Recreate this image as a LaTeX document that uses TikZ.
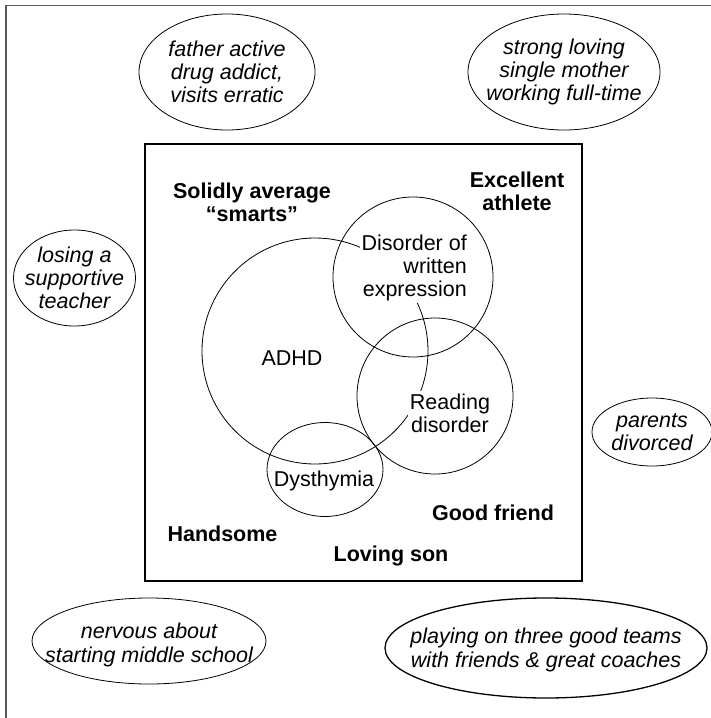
\documentclass[tikz,border=0pt]{standalone}
\usepackage{fontspec}
\setmainfont{Liberation Sans}
\usetikzlibrary{shapes.geometric}
\begin{document}
\begin{tikzpicture}[x=1pt,y=-1pt,
  txt/.style={font=\fontsize{21.5}{23.3}\selectfont, inner sep=0pt, align=center},
  ctx/.style={txt, font=\fontsize{21.5}{23.3}\selectfont\itshape},
  lbl/.style={txt, font=\fontsize{21.5}{23.3}\selectfont\bfseries},
  ring/.style={draw, ellipse, line width=0.8pt, inner sep=0pt}]
\useasboundingbox (0,0) rectangle (711,718);
\draw[black!65, line width=1.8pt] (6,718) -- (6,5.5) -- (711,5.5);
\draw[line width=1.7pt] (145,144) rectangle (582,581);

\node[ring, minimum width=176pt, minimum height=116pt] (father) at (227,72) {};
\node[ctx] (fathertxt) at (father) {father active\\drug addict,\\visits erratic};
\node[ring, minimum width=192pt, minimum height=116pt] (mother) at (564,72) {};
\node[ctx] (mothertxt) at (mother) {strong loving\\single mother\\working full-time};
\node[ring, minimum width=122pt, minimum height=96pt] (teacher) at (74.5,278) {};
\node[ctx] (teachertxt) at (teacher) {losing a\\supportive\\teacher};
\node[ring, minimum width=120pt, minimum height=68pt] (divorce) at (652,432) {};
\node[ctx] (divorcetxt) at (divorce) {parents\\divorced};
\node[ring, minimum width=234pt, minimum height=86pt] (school) at (149,641) {};
\node[ctx] (schooltxt) at ([yshift=-4pt]school.center) {nervous about\\starting middle school};
\node[ring, line width=1.3pt, minimum width=322pt, minimum height=100pt] (teams) at (546,648) {};
\node[ctx] (teamstxt) at ([yshift=-2pt]teams.center) {playing on three good teams\\with friends \& great coaches};

\node[lbl] (smarts) at (252,202) {Solidly average\\“smarts”};
\node[lbl] (athlete) at (517,191) {Excellent\\athlete};
\node[lbl] (friend) at (493,513) {Good friend};
\node[lbl] (handsome) at (222.5,534) {Handsome};
\node[lbl] (son) at (391,556) {Loving son};

\node[ring, circle, minimum size=226pt] (adhd) at (315,351) {};
\node[ring, circle, minimum size=160pt] (written) at (413,277) {};
\node[ring, circle, minimum size=156pt] (reading) at (435,396) {};
\node[ring, minimum width=116pt, minimum height=94pt] (dysthymia) at (325,469.5) {};
\node[txt, fill=white, inner sep=2pt, align=right, anchor=east] (writtenlbl) at (469,268) {Disorder of\\written\\expression};
\node[txt, fill=white, inner sep=2pt] (readinglbl) at (450,413) {Reading\\disorder};
\node[txt] (adhdlbl) at (292,358) {ADHD};
\node[txt] (dysthymialbl) at (324,481) {Dysthymia};
\end{tikzpicture}
\end{document}
